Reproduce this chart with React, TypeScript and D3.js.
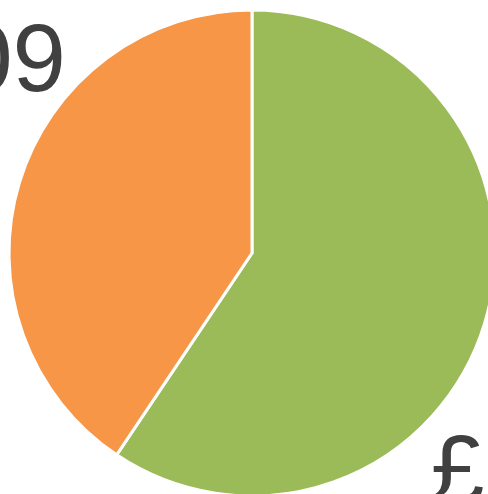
import React from "react";
import * as d3 from "d3";

const categories = ["A", "B"];
const values = [59.4, 40.6];
const colors = ["#9BBB59", "#F79646"];
const labelTexts = ["09", "£3"];

export default function App() {
  const width = 488;
  const height = 494;
  const cx = 252;
  const cy = 253;
  const r = 243;
  const pie = d3.pie<number>().sort(null).value((d) => d);
  const arcs = pie(values);
  const arc = d3.arc<d3.PieArcDatum<number>>().innerRadius(0).outerRadius(r);
  return (
    <svg
      width={width}
      height={height}
      style={{ position: "absolute", left: 0, top: 0, display: "block" }}
    >
      <rect width={width} height={height} fill="#ffffff" />
      <g transform={`translate(${cx},${cy})`}>
        {arcs.map((a, i) => (
          <path
            key={categories[i]}
            d={arc(a) || ""}
            fill={colors[i]}
            stroke="#ffffff"
            strokeWidth={3}
            strokeLinejoin="miter"
          />
        ))}
      </g>
      <text
        x={66}
        y={91}
        textAnchor="end"
        fontFamily="'Liberation Sans', Arial, sans-serif"
        fontSize={96}
        fill="#404040"
      >
        {labelTexts[0]}
      </text>
      <text
        x={431}
        y={502}
        textAnchor="start"
        fontFamily="'Liberation Sans', Arial, sans-serif"
        fontSize={96}
        fill="#404040"
      >
        {labelTexts[1]}
      </text>
    </svg>
  );
}
